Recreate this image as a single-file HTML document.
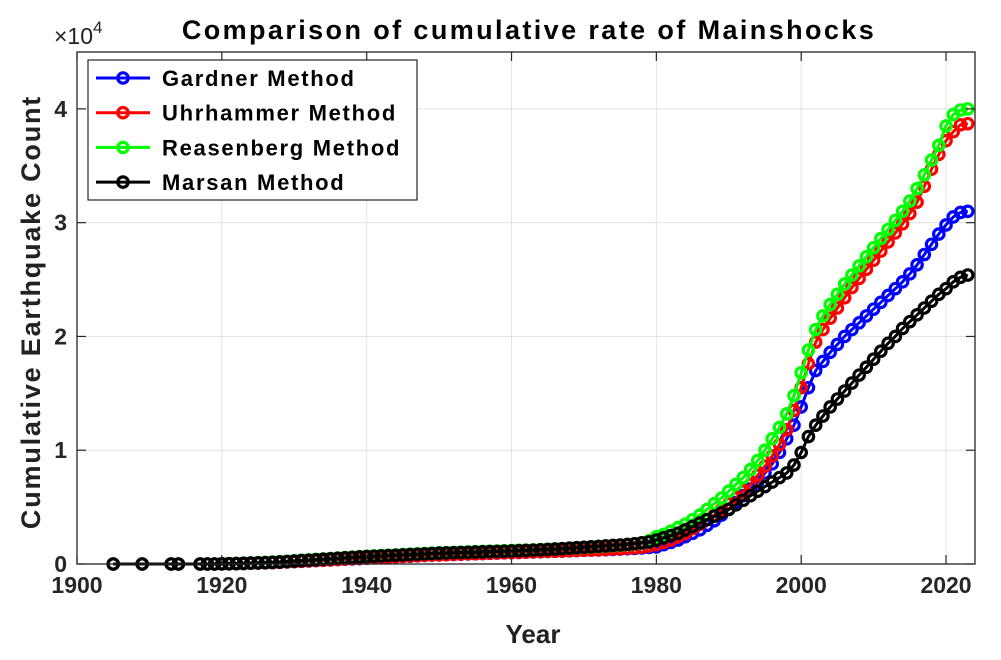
<!DOCTYPE html>
<html><head><meta charset="utf-8"><style>
body{margin:0;background:#fff;}
svg{display:block;font-family:"Liberation Sans",Arial,sans-serif;}
</style></head><body>
<svg id="chart" width="1001" height="660">
<text x="529" y="39" text-anchor="middle" font-size="27" font-weight="bold" letter-spacing="2.4" fill="#000">Comparison of cumulative rate of Mainshocks</text>
<text x="54" y="44" font-size="23" fill="#222">×10<tspan dy="-11" font-size="17">4</tspan></text>
<text transform="translate(40,312) rotate(-90)" text-anchor="middle" font-size="27" font-weight="bold" letter-spacing="1.8" fill="#222">Cumulative Earthquake Count</text>
<text x="533" y="643" text-anchor="middle" font-size="26" font-weight="bold" fill="#222">Year</text>
<g id="grid"></g><g id="series"></g><g id="axes"></g><g id="legend"></g>
</svg>
<script>
const xTicks=[1900,1920,1940,1960,1980,2000,2020];
const yTicks=[0,1,2,3,4];
const earlyYears=[1905,1909,1913,1914];
const startYear=1917, endYear=2023;
const seriesNames=["Gardner Method","Uhrhammer Method","Reasenberg Method","Marsan Method"];
const earlyBlue=[0,0,0,0.001,0.002,0.003,0.004,0.006,0.008,0.010,0.012,0.015,0.018,0.021,0.024,0.027,0.030,0.033,0.036,0.039,0.042,0.045,0.048,0.051,0.054,0.057,0.060,0.063,0.066,0.069,0.072,0.075,0.078,0.080,0.082,0.084,0.086,0.088,0.090,0.092,0.094,0.096,0.098,0.100,0.102,0.104,0.106,0.108,0.110,0.112,0.114,0.116,0.118,0.120,0.122,0.124,0.126,0.128,0.131,0.134,0.137,0.141,0.145];
const lateBlue=[0.15,0.17,0.19,0.21,0.24,0.27,0.30,0.34,0.38,0.43,0.48,0.54,0.60,0.66,0.72,0.80,0.88,0.98,1.10,1.22,1.38,1.55,1.70,1.78,1.86,1.93,2.00,2.06,2.12,2.18,2.24,2.30,2.36,2.42,2.48,2.55,2.63,2.72,2.81,2.90,2.98,3.05,3.09,3.10];
const earlyRed=[0,0,0,0.001,0.002,0.003,0.005,0.007,0.009,0.011,0.013,0.016,0.019,0.022,0.025,0.028,0.031,0.034,0.037,0.040,0.043,0.046,0.049,0.052,0.055,0.058,0.061,0.064,0.067,0.070,0.073,0.076,0.079,0.081,0.083,0.085,0.087,0.089,0.091,0.093,0.095,0.097,0.099,0.101,0.103,0.105,0.107,0.109,0.111,0.113,0.115,0.117,0.119,0.121,0.123,0.125,0.128,0.131,0.134,0.138,0.142,0.148,0.158];
const lateRed=[0.17,0.19,0.21,0.24,0.27,0.31,0.35,0.39,0.43,0.48,0.53,0.58,0.64,0.70,0.78,0.86,0.95,1.05,1.18,1.35,1.55,1.76,1.95,2.06,2.16,2.25,2.34,2.43,2.51,2.59,2.67,2.75,2.83,2.91,2.99,3.08,3.18,3.32,3.47,3.60,3.72,3.80,3.86,3.87];
const earlyGreen=[0,0,0,0.002,0.003,0.005,0.007,0.009,0.011,0.014,0.017,0.020,0.024,0.028,0.032,0.036,0.040,0.044,0.048,0.052,0.056,0.060,0.064,0.068,0.071,0.074,0.077,0.080,0.083,0.086,0.089,0.092,0.095,0.098,0.100,0.102,0.104,0.106,0.108,0.110,0.112,0.114,0.116,0.118,0.120,0.122,0.124,0.126,0.129,0.132,0.135,0.138,0.141,0.145,0.149,0.153,0.157,0.161,0.165,0.170,0.176,0.184,0.205];
const lateGreen=[0.24,0.26,0.29,0.32,0.35,0.39,0.43,0.48,0.53,0.58,0.64,0.70,0.76,0.83,0.91,1.00,1.10,1.20,1.32,1.48,1.68,1.88,2.06,2.18,2.28,2.37,2.46,2.54,2.62,2.70,2.78,2.86,2.94,3.02,3.10,3.19,3.30,3.42,3.55,3.68,3.85,3.95,3.99,4.00];
const earlyBlack=[0,0,0,0.002,0.003,0.004,0.006,0.008,0.010,0.012,0.015,0.018,0.022,0.026,0.030,0.034,0.038,0.042,0.046,0.050,0.054,0.058,0.062,0.065,0.068,0.071,0.074,0.077,0.080,0.083,0.086,0.089,0.092,0.095,0.097,0.099,0.101,0.103,0.105,0.107,0.109,0.111,0.113,0.115,0.117,0.119,0.122,0.125,0.128,0.131,0.135,0.139,0.143,0.147,0.151,0.155,0.159,0.163,0.167,0.172,0.178,0.186,0.195];
const lateBlack=[0.21,0.23,0.25,0.27,0.30,0.33,0.36,0.39,0.42,0.45,0.48,0.52,0.56,0.60,0.64,0.68,0.72,0.76,0.80,0.87,0.98,1.12,1.22,1.30,1.38,1.45,1.52,1.59,1.66,1.73,1.80,1.87,1.94,2.00,2.07,2.13,2.19,2.25,2.31,2.37,2.42,2.48,2.52,2.54];

const NS="http://www.w3.org/2000/svg";
const L=77,R=975,T=52,B=564,xMin=1900,xMax=2024,yMin=0,yMax=4.5;
const xs=v=>L+(v-xMin)/(xMax-xMin)*(R-L);
const ys=v=>B-(v-yMin)/(yMax-yMin)*(B-T);
function mk(tag,attrs,parent){const e=document.createElementNS(NS,tag);for(const k in attrs)e.setAttribute(k,attrs[k]);parent.appendChild(e);return e;}
const grid=document.getElementById('grid'),axes=document.getElementById('axes'),ser=document.getElementById('series'),leg=document.getElementById('legend');
xTicks.forEach(t=>{
  const g=mk('line',{x1:xs(t),x2:xs(t),y1:T,y2:B,stroke:'#e3e3e3','stroke-width':1},grid);
  
  
  mk('line',{x1:xs(t),x2:xs(t),y1:B,y2:B-9,stroke:'#262626','stroke-width':1.2},axes);
  mk('line',{x1:xs(t),x2:xs(t),y1:T,y2:T+9,stroke:'#262626','stroke-width':1.2},axes);
  const tx=mk('text',{x:xs(t),y:B+29,'text-anchor':'middle','font-size':23,'font-weight':'bold',fill:'#262626'},axes);
  tx.textContent=t;
  
  
});
yTicks.forEach(t=>{
  const g=mk('line',{x1:L,x2:R,y1:ys(t),y2:ys(t),stroke:'#e3e3e3','stroke-width':1},grid);
  
  
  mk('line',{x1:L,x2:L+9,y1:ys(t),y2:ys(t),stroke:'#262626','stroke-width':1.2},axes);
  mk('line',{x1:R,x2:R-9,y1:ys(t),y2:ys(t),stroke:'#262626','stroke-width':1.2},axes);
  const tx=mk('text',{x:L-10,y:ys(t)+8,'text-anchor':'end','font-size':23,'font-weight':'bold',fill:'#262626'},axes);
  tx.textContent=t;
  
  
});
const box=mk('rect',{x:L,y:T,width:R-L,height:B-T,fill:'none',stroke:'#262626','stroke-width':1.3},axes);


const years=earlyYears.slice();for(let y=startYear;y<=endYear;y++)years.push(y);
const allSeries=[
 {vals:[0,0,0,0].concat(earlyBlue,lateBlue),c:'#0000ff',n:'series-gardner'},
 {vals:[0,0,0,0].concat(earlyRed,lateRed),c:'#ff0000',n:'series-uhrhammer'},
 {vals:[0,0,0,0].concat(earlyGreen,lateGreen),c:'#00ff00',n:'series-reasenberg'},
 {vals:[0,0,0,0].concat(earlyBlack,lateBlack),c:'#000000',n:'series-marsan'}];
allSeries.forEach(s=>{
  const g=mk('g',{},ser);
  
  
  const pts=years.map((y,i)=>xs(y).toFixed(1)+','+ys(s.vals[i]).toFixed(1)).join(' ');
  mk('polyline',{points:pts,fill:'none',stroke:s.c,'stroke-width':3},g);
  years.forEach((y,i)=>{
    const c=mk('circle',{cx:xs(y),cy:ys(s.vals[i]),r:5.2,fill:'none',stroke:s.c,'stroke-width':3.2},g);
    
    
  });
});
const lb=mk('rect',{x:88,y:60,width:329,height:140,fill:'#fff',stroke:'#262626','stroke-width':1.2},leg);


seriesNames.forEach((nm,i)=>{
  const y=78+i*34.7;
  const g=mk('g',{},leg);
  
  
  mk('line',{x1:96,x2:150,y1:y,y2:y,stroke:allSeries[i].c,'stroke-width':3},g);
  mk('circle',{cx:123,cy:y,r:5.2,fill:'none',stroke:allSeries[i].c,'stroke-width':3.2},g);
  const t=mk('text',{x:162,y:y+8,'font-size':22,'font-weight':'bold','letter-spacing':1.7,fill:'#000'},g);
  t.textContent=nm;
});
</script>
</body></html>
